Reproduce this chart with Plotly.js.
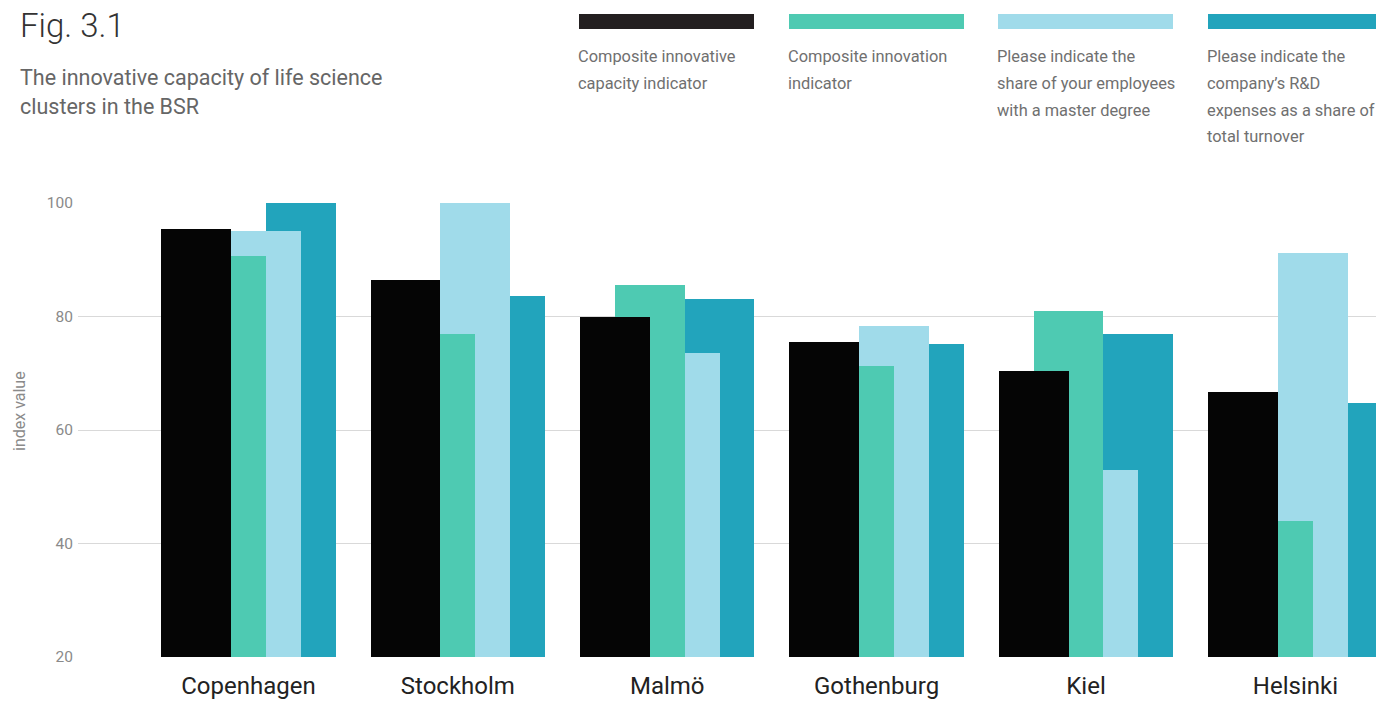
<!DOCTYPE html>
<html>
<head>
<meta charset="utf-8">
<script src="https://cdn.plot.ly/plotly-3.0.1.min.js"></script>
<style>
html,body{margin:0;padding:0;background:#fff;}
#chart{width:1376px;height:702px;}
</style>
</head>
<body>
<div id="chart"></div>
<script>
// ---- data ----
const clusters = ["Copenhagen", "Stockholm", "Malmö", "Gothenburg", "Kiel", "Helsinki"];
const compositeCapacity = [95.5, 86.5, 80.0, 75.5, 70.4, 66.7];
const compositeInnovation = [90.7, 77.0, 85.6, 71.3, 81.0, 44.0];
const masterDegreeShare = [95.1, 100.0, 73.6, 78.4, 52.9, 91.2];
const rdExpensesShare = [100.0, 83.6, 83.0, 75.2, 77.0, 64.8];
const seriesNames = [
  ["Composite innovative", "capacity indicator"],
  ["Composite innovation", "indicator"],
  ["Please indicate the", "share of your employees", "with a master degree"],
  ["Please indicate the", "company’s R&D", "expenses as a share of", "total turnover"]
];
const yTicks = [20, 40, 60, 80, 100];
const figLabel = "Fig. 3.1";
const subtitleLines = ["The innovative capacity of life science", "clusters in the BSR"];
const yAxisLabel = "index value";

// ---- styling ----
const colors = ["#050505", "#4ecab2", "#a0dbea", "#22a4bc"];
const legendColors = ["#231f20", "#4ecab2", "#a0dbea", "#22a4bc"];
const FONT = "Roboto, 'Noto Sans', sans-serif";
const W = 1376, H = 702, L = 78, R = 0, T = 203, B = 45;
const pw = W - L - R, ph = H - T - B;
const px = x => (x - L) / pw;
const py = y => (H - B - y) / ph;

const barWidth = 1 / 3;
const offsets = [-5 / 12, -3 / 12, -1 / 12, 1 / 12];
const values = [compositeCapacity, compositeInnovation, masterDegreeShare, rdExpensesShare];

// draw back to front: R&D, master, innovation, capacity
const order = [3, 2, 1, 0];
const traces = order.map(i => ({
  type: "bar",
  x: clusters,
  y: values[i],
  name: seriesNames[i].join(" "),
  width: clusters.map(() => barWidth),
  offset: clusters.map(() => offsets[i]),
  marker: { color: colors[i], opacity: 1, line: { width: 0 } },
  hoverinfo: "x+y+name",
  showlegend: false
}));

const shapes = [];
const annotations = [];
const swatchX = [579, 789, 998, 1208];
swatchX.forEach((sx, i) => {
  shapes.push({
    type: "rect", xref: "paper", yref: "paper",
    x0: px(sx), x1: px(sx + 175), y0: py(29), y1: py(14),
    fillcolor: legendColors[i], line: { width: 0 }, layer: "above"
  });
  seriesNames[i].forEach((line, j) => {
    annotations.push({
      xref: "paper", yref: "paper", x: px(sx - 3), y: py(57 + j * 26.5),
      xanchor: "left", yanchor: "middle", showarrow: false,
      text: line, font: { family: FONT, size: 16.4, color: "#707070" }
    });
  });
});

annotations.push({
  xref: "paper", yref: "paper", x: px(18), y: py(25),
  xanchor: "left", yanchor: "middle", showarrow: false,
  text: figLabel, font: { family: FONT, size: 33, color: "#333333", weight: 300 }
});
subtitleLines.forEach((line, j) => {
  annotations.push({
    xref: "paper", yref: "paper", x: px(18), y: py(77 + j * 29),
    xanchor: "left", yanchor: "middle", showarrow: false,
    text: line, font: { family: FONT, size: 21.5, color: "#666666" }
  });
});
annotations.push({
  xref: "paper", yref: "paper", x: px(19), y: py(411),
  xanchor: "center", yanchor: "middle", showarrow: false, textangle: -90,
  text: yAxisLabel, font: { family: FONT, size: 16, color: "#8a8a8a" }
});

const layout = {
  width: W, height: H,
  margin: { l: L, r: R, t: T, b: B, pad: 0 },
  paper_bgcolor: "#ffffff", plot_bgcolor: "#ffffff",
  barmode: "overlay",
  bargap: 0,
  showlegend: false,
  xaxis: {
    type: "category",
    range: [-0.814, 5.385],
    showgrid: false, zeroline: false, showline: false,
    ticks: "", ticklabelstandoff: 12,
    tickfont: { family: FONT, size: 24, color: "#222222" },
    fixedrange: true
  },
  yaxis: {
    range: [20, 100],
    tickvals: yTicks,
    ticktext: yTicks.map(String),
    showgrid: true, gridcolor: "#d9d9d9", gridwidth: 1.2,
    zeroline: false, showline: false, ticks: "",
    ticklabelstandoff: 4,
    tickfont: { family: FONT, size: 15.5, color: "#8a8a8a" },
    fixedrange: true
  },
  shapes: shapes,
  annotations: annotations
};

Plotly.newPlot("chart", traces, layout, { displayModeBar: false, staticPlot: false });
</script>
</body>
</html>
